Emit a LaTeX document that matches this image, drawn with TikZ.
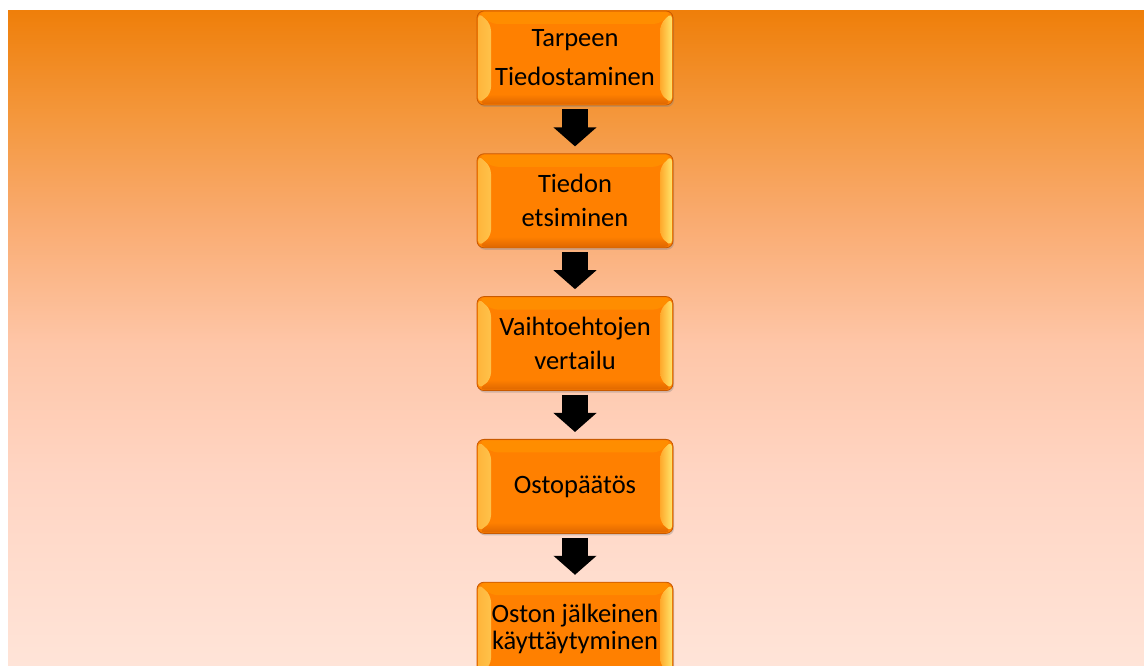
\documentclass[tikz,border=0pt]{standalone}
\usepackage{fontspec}
\setmainfont{Carlito}
\usetikzlibrary{positioning,calc,arrows.meta,shadows}

\definecolor{bgtop}{HTML}{EF7F0A}
\definecolor{bgupper}{HTML}{F4983E}
\definecolor{bgmida}{HTML}{F9AA6E}
\definecolor{bgmidb}{HTML}{FEC6A8}
\definecolor{bglower}{HTML}{FFD5C3}
\definecolor{bgbottom}{HTML}{FFE4D8}
\definecolor{boxface}{HTML}{FF8000}
\definecolor{boxedge}{HTML}{C85A00}
\definecolor{boxdark}{HTML}{E06800}
\definecolor{boxlight}{HTML}{FFC24A}
\definecolor{boxshine}{HTML}{FFE46A}

\pgfdeclareverticalshading{bgfade}{100bp}{color(0bp)=(bgbottom); color(25bp)=(bgbottom);
  color(39.6bp)=(bglower); color(49.5bp)=(bgmidb); color(59.4bp)=(bgmida);
  color(66.7bp)=(bgupper); color(75bp)=(bgtop); color(100bp)=(bgtop)}

\tikzset{
  phase/.style={rounded corners=7pt, minimum width=196pt, minimum height=94pt,
    fill=boxface, draw=boxedge, line width=0.8pt, align=center,
    font=\fontsize{26.5}{34}\selectfont,
    drop shadow={opacity=0.35, shadow xshift=1pt, shadow yshift=-2pt},
    path picture={
      \coordinate (pnw) at (path picture bounding box.north west);
      \coordinate (pne) at (path picture bounding box.north east);
      \coordinate (psw) at (path picture bounding box.south west);
      \coordinate (pse) at (path picture bounding box.south east);
      % left and right bevels
      \shade[left color=boxlight!80!boxface, right color=boxlight]
        ($(pnw)+(1pt,-1pt)$) -- ($(psw)+(1pt,1pt)$) -- ($(psw)+(14pt,11pt)$) -- ($(pnw)+(14pt,-13pt)$) -- cycle;
      \shade[left color=boxface!60!boxshine, right color=boxshine]
        ($(pne)+(-1pt,-1pt)$) -- ($(pse)+(-1pt,1pt)$) -- ($(pse)+(-13pt,11pt)$) -- ($(pne)+(-13pt,-13pt)$) -- cycle;
      % top and bottom bevels
      \fill[boxface!90!yellow]
        ($(pnw)+(1pt,-1pt)$) -- ($(pne)+(-1pt,-1pt)$) -- ($(pne)+(-13pt,-13pt)$) -- ($(pnw)+(14pt,-13pt)$) -- cycle;
      \shade[top color=boxface, bottom color=boxdark]
        ($(psw)+(1pt,1pt)$) -- ($(pse)+(-1pt,1pt)$) -- ($(pse)+(-13pt,11pt)$) -- ($(psw)+(14pt,11pt)$) -- cycle;
    }},
  downarrow/.style={line width=26pt, black, -{Triangle[width=42pt,length=19pt]}}
}

\begin{document}
\begin{tikzpicture}

	\useasboundingbox (0,0) rectangle (1144pt,666pt);
	\shade[shading=bgfade] (8pt,0) rectangle (1144pt,655pt);

	\node[phase] (need) at (575pt,608pt) {Tarpeen\\[5pt]Tiedostaminen};
	\node[phase, below=48pt of need] (search) {Tiedon\\etsiminen};
	\node[phase, below=48pt of search] (compare) {Vaihtoehtojen\\vertailu};
	\node[phase, below=48pt of compare] (decide) {Ostopäätös};
	\node[phase, below=48pt of decide] (after) {Oston jälkeinen\\[-7pt]käyttäytyminen};

	\draw[downarrow] ($(need.south)+(0,-4pt)$) -- ($(search.north)+(0,7pt)$);
	\draw[downarrow] ($(search.south)+(0,-4pt)$) -- ($(compare.north)+(0,7pt)$);
	\draw[downarrow] ($(compare.south)+(0,-4pt)$) -- ($(decide.north)+(0,7pt)$);
	\draw[downarrow] ($(decide.south)+(0,-4pt)$) -- ($(after.north)+(0,7pt)$);

\end{tikzpicture}
\end{document}
